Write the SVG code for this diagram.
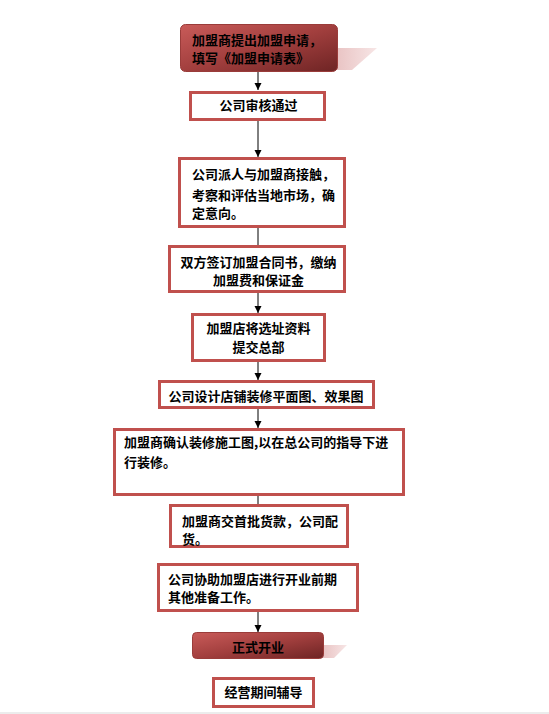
<svg xmlns="http://www.w3.org/2000/svg" width="549" height="714" viewBox="0 0 549 714">
<style>
  .box { fill: #ffffff; stroke: #c0504d; stroke-width: 3; }
  .dark { stroke: #9a3c3a; stroke-width: 1; }
  .shadow { fill: url(#shd); }
  .t { font-family: "Noto Sans CJK SC", "Liberation Sans", sans-serif; font-size: 13px; font-weight: bold; fill: #000000; }
  .c { text-anchor: middle; }
  .conn { stroke: #000000; stroke-width: 1; fill: none; }
</style>
<defs>
  <linearGradient id="redg" x1="0" y1="0" x2="1" y2="1">
    <stop offset="0" stop-color="#c95b59"/>
    <stop offset="0.5" stop-color="#a23f3e"/>
    <stop offset="1" stop-color="#6e2424"/>
  </linearGradient>
  <linearGradient id="shd" x1="0" y1="0" x2="1" y2="0">
    <stop offset="0" stop-color="#e9c3c3"/>
    <stop offset="1" stop-color="#f7e6e6"/>
  </linearGradient>
  <marker id="arr" markerUnits="userSpaceOnUse" markerWidth="8" markerHeight="8" refX="7" refY="4" orient="auto">
    <path d="M0,0.5 L7,4 L0,7.5 Z" fill="#000000"/>
  </marker>
</defs>
<rect x="0" y="712" width="549" height="2" fill="#ececec"/>
<g id="connectors">
  <line class="conn" x1="258" y1="72" x2="258" y2="90" marker-end="url(#arr)"/>
  <line class="conn" x1="258" y1="121" x2="258" y2="157" marker-end="url(#arr)"/>
  <line class="conn" x1="258" y1="227" x2="258" y2="245"/>
  <line class="conn" x1="258" y1="293" x2="258" y2="313" marker-end="url(#arr)"/>
  <line class="conn" x1="258" y1="362" x2="258" y2="380" marker-end="url(#arr)"/>
  <line class="conn" x1="258" y1="409" x2="258" y2="428" marker-end="url(#arr)"/>
  <line class="conn" x1="258" y1="485" x2="258" y2="504"/>
  <line class="conn" x1="258" y1="612" x2="258" y2="632" marker-end="url(#arr)"/>
</g>
<g id="n1">
  <polygon class="shadow" points="336,48 377,48 352,70 336,70"/>
  <rect class="dark" x="180.5" y="24.5" width="157" height="47" rx="5" fill="url(#redg)"/>
  <text class="t" x="192" y="45">加盟商提出加盟申请，</text>
  <text class="t" x="192" y="63">填写《加盟申请表》</text>
</g>
<g id="n2">
  <rect class="box" x="190.5" y="92.5" width="134" height="27"/>
  <text class="t c" x="258.5" y="110">公司审核通过</text>
</g>
<g id="n3">
  <rect class="box" x="179.5" y="158.5" width="165" height="68"/>
  <text class="t" x="192" y="179">公司派人与加盟商接触，</text>
  <text class="t" x="192" y="200">考察和评估当地市场，确</text>
  <text class="t" x="192" y="218">定意向。</text>
</g>
<g id="n4">
  <rect class="box" x="169.5" y="246.5" width="175" height="45"/>
  <text class="t c" x="258.5" y="267">双方签订加盟合同书，缴纳</text>
  <text class="t c" x="258.5" y="285">加盟费和保证金</text>
</g>
<g id="n5">
  <rect class="box" x="192.5" y="314.5" width="132" height="46"/>
  <text class="t c" x="258.5" y="333">加盟店将选址资料</text>
  <text class="t c" x="258.5" y="352">提交总部</text>
</g>
<g id="n6">
  <rect class="box" x="159.5" y="381.5" width="214" height="26"/>
  <text class="t c" x="266" y="401">公司设计店铺装修平面图、效果图</text>
</g>
<g id="n7">
  <rect class="box" x="114.5" y="429.5" width="289" height="65"/>
  <text class="t" x="124" y="447">加盟商确认装修施工图,以在总公司的指导下进</text>
  <text class="t" x="124" y="467">行装修。</text>
</g>
<g id="n8">
  <rect class="box" x="170.5" y="505.5" width="177" height="41"/>
  <text class="t" x="182" y="526">加盟商交首批货款，公司配</text>
  <text class="t" x="182" y="544">货。</text>
</g>
<g id="n9">
  <rect class="box" x="158.5" y="564.5" width="199" height="46"/>
  <text class="t" x="168" y="584">公司协助加盟店进行开业前期</text>
  <text class="t" x="168" y="602">其他准备工作。</text>
</g>
<g id="n10">
  <polygon class="shadow" points="323,645 347,645 334,658 323,658"/>
  <rect class="dark" x="192.5" y="632.5" width="131" height="26" rx="4" fill="url(#redg)"/>
  <text class="t c" x="258" y="652">正式开业</text>
</g>
<g id="n11">
  <rect class="box" x="213.5" y="678.5" width="100" height="28"/>
  <text class="t c" x="263.5" y="697">经营期间辅导</text>
</g>
</svg>
